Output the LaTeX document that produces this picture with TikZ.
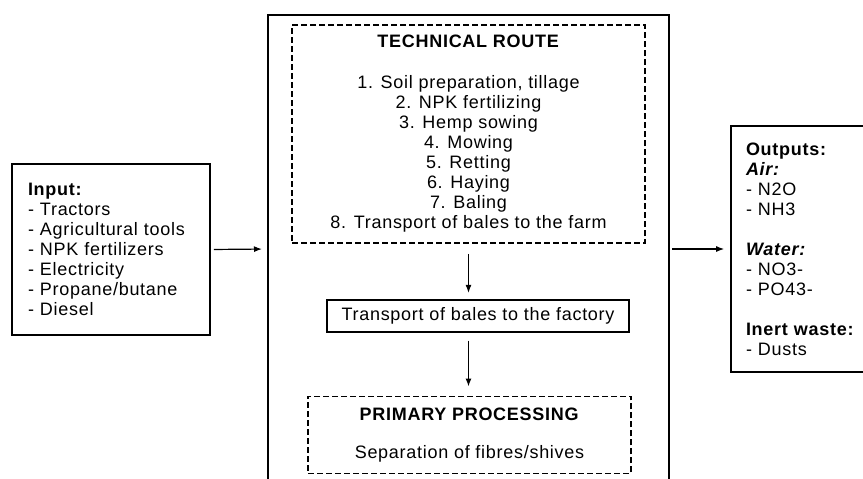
\documentclass[tikz,border=0pt]{standalone}
\usepackage{fontspec}
\setmainfont{Liberation Sans}[LetterSpace=4]
\usepackage{tikz}
\usetikzlibrary{shapes,arrows,arrows.meta,positioning,calc}

\begin{document}
\begin{tikzpicture}[
        x=1pt, y=-1pt,
        node distance=55pt,
        >={Latex[length=8pt,width=6pt]},
        txt/.style={font=\fontsize{18}{20}\selectfont},
        box/.style={rectangle, draw, line width=1.7pt, inner sep=0pt, txt},
        dashbox/.style={box, dash pattern=on 6pt off 3pt},
        frame/.style={line width=1.7pt},
        arrow/.style={->, line width=1.2pt, shorten <=3pt, shorten >=6pt}
    ]
    \useasboundingbox (0,0) rectangle (863,479);

    \draw[frame] (268,490) |- (669,15) -- (669,490);
    \coordinate (frameW) at (268,249);
    \coordinate (frameE) at (669,249);

    \node[box, minimum width=198pt, minimum height=171pt, text width=166pt, align=left] (input) at (111,249.5)
        {\textbf{Input:}\\- Tractors\\- Agricultural tools\\- NPK fertilizers\\- Electricity\\- Propane/butane\\- Diesel};

    \node[dashbox, minimum width=353pt, minimum height=218pt, align=center] (tech) at (468.5,134)
        {\textbf{TECHNICAL ROUTE}\\[21pt]
        1. Soil preparation, tillage\\2. NPK fertilizing\\3. Hemp sowing\\4. Mowing\\5. Retting\\6. Haying\\7. Baling\\8. Transport of bales to the farm};
    \node[box, minimum width=302pt, minimum height=32pt, below=of tech, xshift=9.5pt] (factory) {Transport of bales to the factory};
    \node[dashbox, minimum width=323pt, minimum height=77pt, align=center, below=63pt of factory, xshift=-8.5pt] (primary)
        {\textbf{PRIMARY PROCESSING}\\[18pt]Separation of fibres/shives};

    \node[box, minimum width=150pt, minimum height=246pt, text width=120pt, align=left] (outputs) at (806,249)
        {\textbf{Outputs:}\\\textbf{\textit{Air:}}\\- N2O\\- NH3\\[20pt]
        \textbf{\textit{Water:}}\\- NO3-\\- PO43-\\[20pt]
        \textbf{Inert waste:}\\- Dusts};

    \draw[arrow] (input.east) -- (frameW);
    \draw[arrow] (frameE) -- (outputs.west);
    \draw[arrow, shorten <=10pt] (tech.south) -- (tech.south |- factory.north);
    \draw[arrow, shorten <=8pt, shorten >=9pt] (tech.south |- factory.south) -- (tech.south |- primary.north);

\end{tikzpicture}
\end{document}
